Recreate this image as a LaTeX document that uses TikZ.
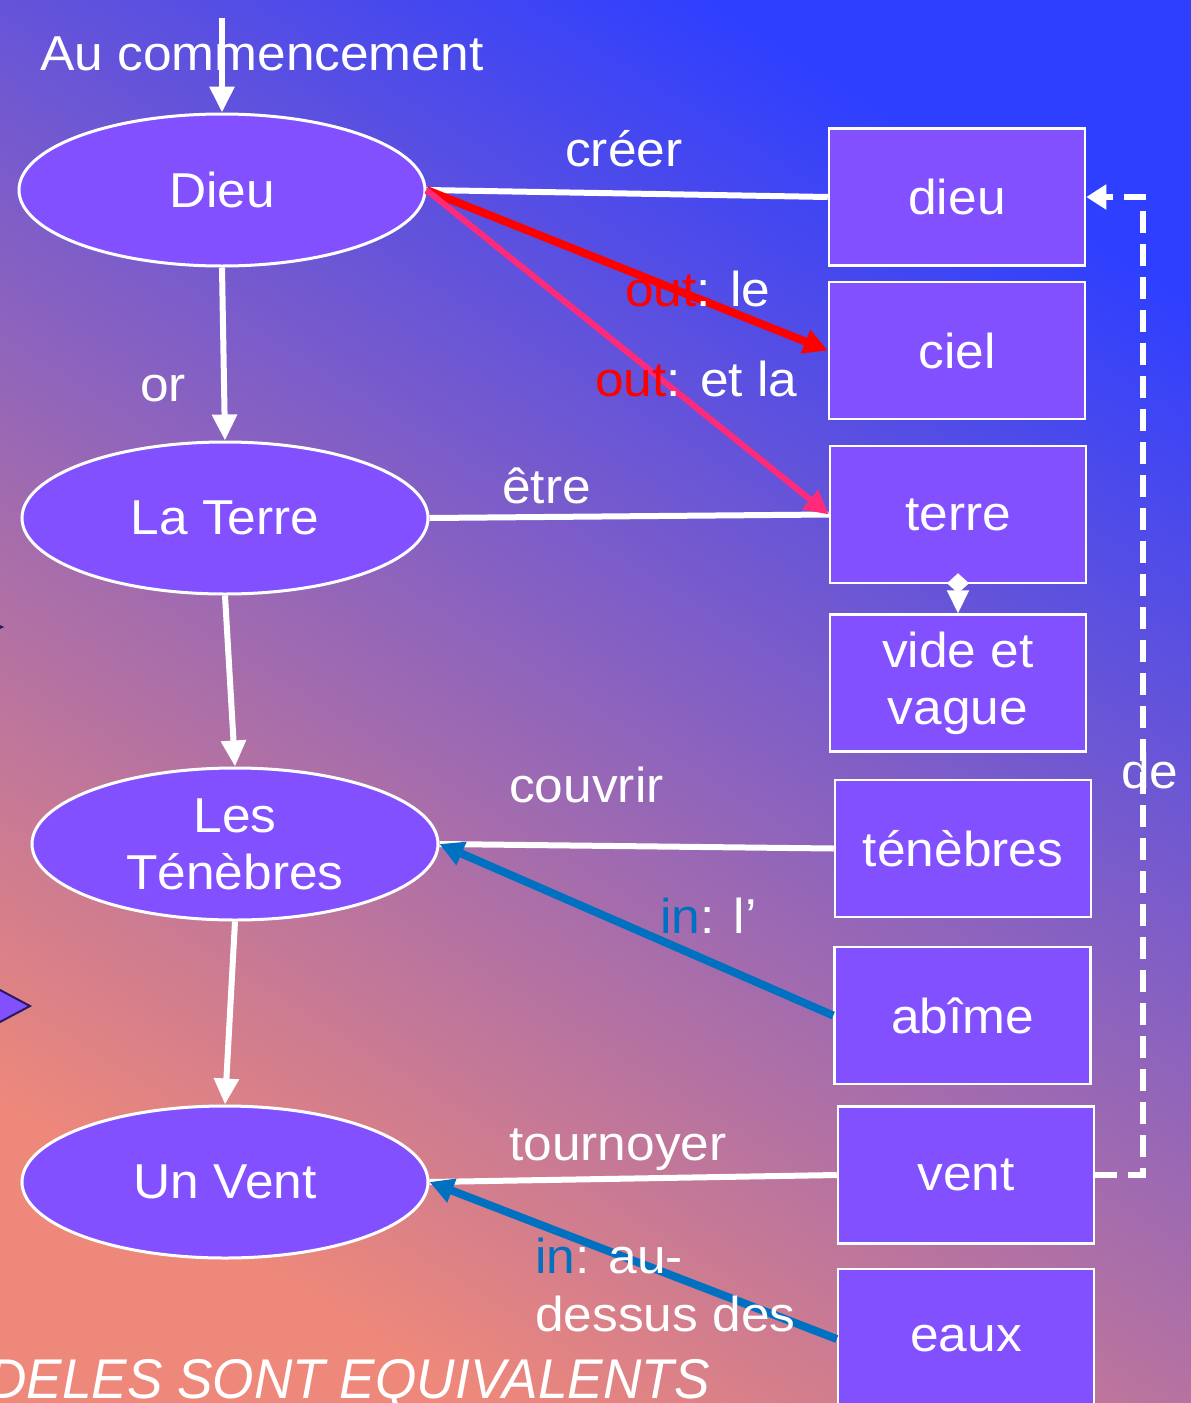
\documentclass[tikz,border=0pt]{standalone}
\usepackage{fontspec}
\usetikzlibrary{shapes.geometric,arrows.meta,calc}
\newfontfamily\labfont[FakeStretch=1.05]{Liberation Sans}
\newfontfamily\condfont[FakeStretch=0.95]{Liberation Sans}
\newcommand\labf{\labfont\fontsize{49}{57}\selectfont}
\definecolor{nodefill}{HTML}{8350FF}
\definecolor{bgblue}{HTML}{2E3FFF}
\definecolor{bgmid}{HTML}{9C62D8}
\definecolor{bgsalmon}{HTML}{EE887A}
\definecolor{outred}{HTML}{FF0000}
\definecolor{outpink}{HTML}{FF2A7A}
\definecolor{inblue}{HTML}{0070C0}
\definecolor{darkedge}{HTML}{2A1860}
\tikzset{
  ell/.style={ellipse, draw=white, line width=3pt, fill=nodefill, minimum width=406pt, minimum height=152pt, inner sep=0pt, text=white, font=\labf, align=center},
  box/.style={rectangle, draw=white, line width=2.5pt, fill=nodefill, minimum width=256pt, minimum height=137pt, inner sep=0pt, text=white, font=\labf, align=center},
  wline/.style={white, line width=6pt},
  warrow/.style={wline, -{Triangle[length=26pt,width=24pt]}},
  carrow/.style={line width=8pt, -{Triangle[length=24pt,width=24pt]}},
  lbl/.style={text=white, font=\labf, inner sep=0pt, anchor=base west},
  dashline/.style={white, line width=6pt, dash pattern=on 22pt off 11pt, -{Triangle[length=20pt,width=24pt]}},
}
\begin{document}
\begin{tikzpicture}[x=1pt,y=-1pt]
\useasboundingbox (0,0) rectangle (1191,1403);
\shade[top color=bgblue, middle color=bgmid, bottom color=bgsalmon, shading angle=-32] (0,0) rectangle (1191,1403);
% left-edge fragments
\draw[fill=nodefill, draw=darkedge, line width=2pt] (-30,974) -- (30,1006) -- (-30,1038) -- cycle;
\draw[fill=darkedge, draw=darkedge, line width=1pt] (-20,617) -- (3,627) -- (-20,637) -- cycle;
% ellipses
\node[ell] (Dieu) at (222,190) {Dieu};
\node[ell] (Terre) at (225,518) {La Terre};
\node[ell] (Tenebres) at (235,844) {Les\\Ténèbres};
\node[ell] (Vent) at (225,1182) {Un Vent};
% boxes
\node[box] (dieu) at (957,197) {dieu};
\node[box] (ciel) at (957,350.5) {ciel};
\node[box] (terre) at (958,514.5) {terre};
\node[box] (vide) at (958,683) {vide et\\vague};
\node[box] (tenebres) at (963,848.5) {ténèbres};
\node[box] (abime) at (962.5,1015.5) {abîme};
\node[box] (vent) at (966,1175) {vent};
\node[box, minimum height=140pt] (eaux) at (966,1339) {eaux};
% connectors
\coordinate (start) at (222,18);
\draw[warrow] (start) -- (Dieu.north);
\draw[warrow] (Dieu.south) -- (Terre.north);
\draw[warrow] (Terre.south) -- (Tenebres.north);
\draw[warrow] (Tenebres.south) -- (Vent.north);
\draw[wline] (Dieu.east) -- (dieu.west);
\draw[wline] (Terre.east) -- (terre.west);
\draw[wline] (tenebres.west) -- (Tenebres.east);
\draw[wline] (vent.west) -- (Vent.east);
\draw[carrow, outred] (Dieu.east) -- (ciel.west);
\draw[carrow, outpink, line width=6pt] (Dieu.east) -- (terre.west);
\draw[carrow, inblue] (abime.west) -- (Tenebres.east);
\draw[carrow, inblue] (eaux.west) -- (Vent.east);
\draw[white, line width=2pt, {Diamond[length=20pt,width=22pt]}-{Triangle[length=23pt,width=22pt]}] ([yshift=11pt]terre.south) -- (vide.north);
\draw[dashline] (vent.east) -- ++(48,0) |- (dieu.east);
% labels
\node[lbl] (l0) at (40,70) {Au commencement};
\node[lbl] (l1) at (565,166) {créer};
\node[lbl] (l2) at (140,401) {or};
\node[lbl] (l3) at (625,306) {\textcolor{outred}{out}: le};
\node[lbl] (l4) at (595,396) {\textcolor{outred}{out}: et la};
\node[lbl] (l5) at (502,503) {être};
\node[lbl] (l6) at (509,802) {couvrir};
\node[lbl] (l7) at (660,933) {\textcolor{inblue}{in}: l’};
\node[lbl] (l8) at (509,1160) {tournoyer};
\node[lbl] (l9) at (535,1273) {\textcolor{inblue}{in}: au-};
\node[lbl] (l10) at (535,1331) {dessus des};
\node[lbl] (l11) at (1121,788) {de};
\node[lbl, font=\condfont\itshape\fontsize{56}{60}\selectfont] (l12) at (-12,1398) {DELES SONT EQUIVALENTS};
\end{tikzpicture}
\end{document}
